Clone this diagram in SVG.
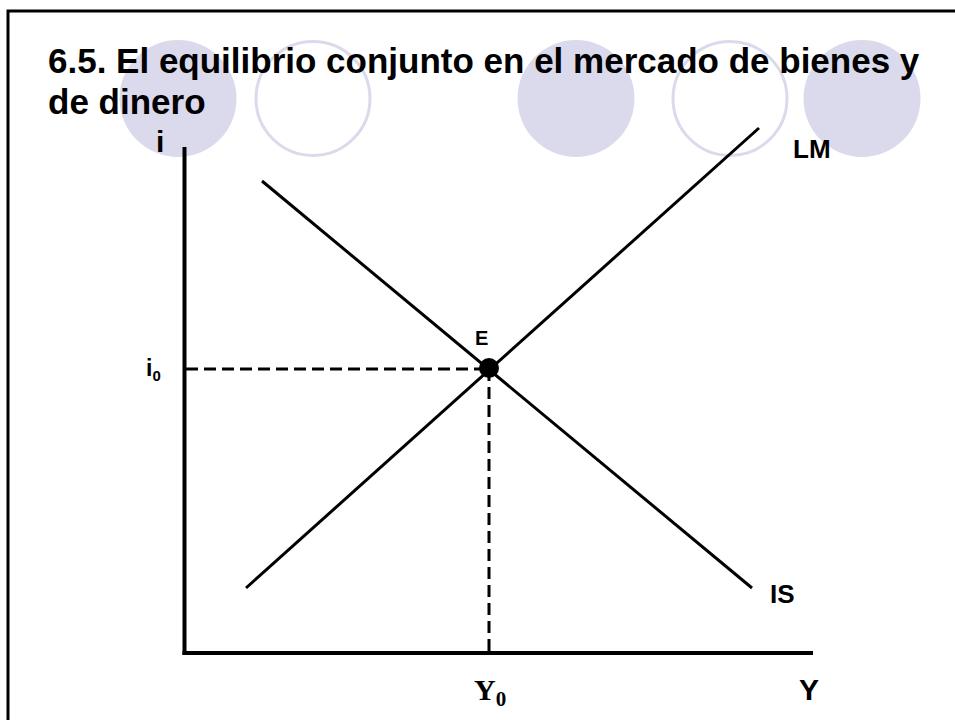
<svg xmlns="http://www.w3.org/2000/svg" width="955" height="720" viewBox="0 0 955 720">
<style>
.t{font-family:"Liberation Sans",Arial,sans-serif;font-weight:bold;fill:#000}
.s{font-family:"Liberation Serif","Times New Roman",serif;font-weight:bold;fill:#000}
.fc{fill:#DADAEC;stroke:none}
.oc{fill:none;stroke:#DADAEC;stroke-width:3}
.ax{stroke:#000;stroke-width:4;fill:none}
.cv{stroke:#000;stroke-width:3;fill:none}
.da{stroke:#000;stroke-width:3;fill:none;stroke-dasharray:12 6}
</style>
<rect x="0" y="0" width="955" height="720" fill="#fff"/>
<g id="frame"><polyline points="8,720 8,11 955,11" fill="none" stroke="#000" stroke-width="3"/></g>
<g id="decor">
<circle class="fc" cx="178" cy="98.5" r="58.5"/>
<circle class="oc" cx="313" cy="98.5" r="57"/>
<circle class="fc" cx="576" cy="98.5" r="58.5"/>
<circle class="oc" cx="730" cy="98.5" r="57"/>
<circle class="fc" cx="862" cy="98.5" r="58.5"/>
</g>
<g id="title">
<text class="t" x="48" y="73" font-size="35">6.5. El equilibrio conjunto en el mercado de bienes y</text>
<text class="t" x="48" y="114" font-size="35">de dinero</text>
</g>
<g id="connectors">
<line class="ax" x1="184.5" y1="147" x2="184.5" y2="655"/>
<line class="ax" x1="182.5" y1="653" x2="813" y2="653"/>
<line id="IS-line" class="cv" x1="262" y1="181" x2="752" y2="588"/>
<line id="LM-line" class="cv" x1="246" y1="588" x2="759" y2="128"/>
<line class="da" x1="186" y1="369" x2="489" y2="369"/>
<line class="da" x1="489" y1="369" x2="489" y2="651"/>
</g>
<g id="E"><circle cx="489" cy="368" r="10" fill="#000"/><text class="t" x="475" y="345" font-size="20">E</text></g>
<g id="labels">
<text class="t" x="146" y="376" font-size="23">i<tspan font-size="15" dy="5">0</tspan></text>
<text class="t" x="156" y="152" font-size="30">i</text>
<text class="t" x="793" y="158" font-size="26">LM</text>
<text class="t" x="770" y="603" font-size="26">IS</text>
<text class="s" x="474" y="700" font-size="30">Y<tspan font-size="21" dy="6">0</tspan></text>
<text class="t" x="799" y="700" font-size="30">Y</text>
</g>
</svg>
